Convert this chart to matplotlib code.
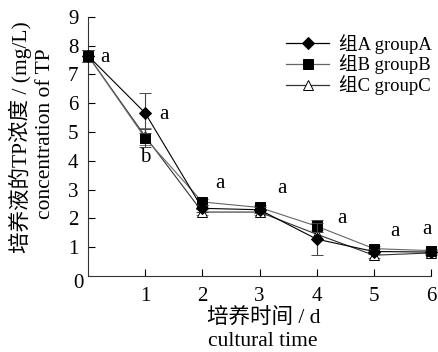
import matplotlib
matplotlib.use("Agg")
import matplotlib.pyplot as plt
from matplotlib.lines import Line2D

plt.rcParams['font.family'] = ['Liberation Serif', 'Noto Sans CJK SC']

days = [0, 1, 2, 3, 4, 5, 6]
group_a = [7.65, 5.66, 2.35, 2.3, 1.28, 0.85, 0.83]
group_a_err = [0.2, 0.68, 0.12, 0.1, 0.55, 0.1, 0.06]
group_b = [7.65, 4.79, 2.57, 2.38, 1.73, 0.95, 0.88]
group_b_err = [0.2, 0.3, 0.1, 0.08, 0.2, 0.1, 0.06]
group_c = [7.65, 4.85, 2.22, 2.22, 1.45, 0.72, 0.8]
group_c_err = [0.2, 0.3, 0.1, 0.1, 0.15, 0.1, 0.06]

labels = ['组A groupA', '组B groupB', '组C groupC']

# significance letters: (x, y, text)
sig_x = [0.3, 1.32, 1.0, 2.3, 3.4, 4.45, 5.37, 5.93]
sig_y = [7.6, 5.6, 4.1, 3.2, 3.05, 1.98, 1.53, 1.6]
sig_txt = ['a', 'a', 'b', 'a', 'a', 'a', 'a', 'a']

fig = plt.figure(figsize=(4.38, 3.52), dpi=100)
ax = fig.add_axes([0.201, 0.216, 0.783, 0.736])

styles = [
    dict(color='black', marker='D', ms=6, mfc='black', mec='black', ecolor='#444444'),
    dict(color='#666666', marker='s', ms=6.5, mfc='black', mec='black', ecolor='#444444'),
    dict(color='#333333', marker='^', ms=6.5, mfc='white', mec='black', ecolor='#777777'),
]
series = [(group_a, group_a_err), (group_b, group_b_err), (group_c, group_c_err)]
zorders = [4, 3, 2]

handles = []
for (vals, err), st, z in zip(series, styles, zorders):
    ax.errorbar(days, vals, yerr=err, lw=0.8, capsize=4, elinewidth=0.8,
                mew=0.7, clip_on=False, zorder=z, **st)
    handles.append(Line2D([], [], color=st['color'], lw=0.9, marker=st['marker'],
                          ms=st['ms'], mfc=st['mfc'], mec=st['mec'], mew=0.7))

for x, y, t in zip(sig_x, sig_y, sig_txt):
    ax.text(x, y, t, fontsize=15, ha='center', va='center')

ax.set_xlim(0, 6)
ax.set_ylim(0, 9)
ax.set_xticks([1, 2, 3, 4, 5, 6])
ax.set_yticks(range(1, 10))
ax.tick_params(axis='x', direction='in', length=5, width=0.8, pad=8, labelsize=15)
ax.tick_params(axis='y', direction='in', length=5, width=0.8, pad=7, labelsize=15)
ax.text(-0.17, -0.25, '0', fontsize=15, ha='center', va='center', clip_on=False)
ax.spines['top'].set_visible(False)
ax.spines['right'].set_visible(False)
for s in ['left', 'bottom']:
    ax.spines[s].set_linewidth(0.8)
    ax.spines[s].set_color('#333333')

fig.text(264 / 438, 1 - 318 / 352, '培养时间 / d', fontsize=15.5,
         ha='center', va='center')
fig.text(263 / 438, 1 - 342 / 352, 'cultural time', fontsize=15.5,
         ha='center', va='center')
fig.text(20 / 438, 1 - 137 / 352, '培养液的TP浓度 / (mg/L)', fontsize=15.5,
         ha='center', va='center', rotation=90)
fig.text(46 / 438, 1 - 134 / 352, 'concentration of TP', fontsize=15.5,
         ha='center', va='center', rotation=90)

ax.legend(handles, labels, loc='upper right', bbox_to_anchor=(1.05, 1.0),
          frameon=False, fontsize=13.4, handlelength=2.3, labelspacing=0.05,
          handletextpad=0.5)

fig.savefig('out.png', dpi=100)
